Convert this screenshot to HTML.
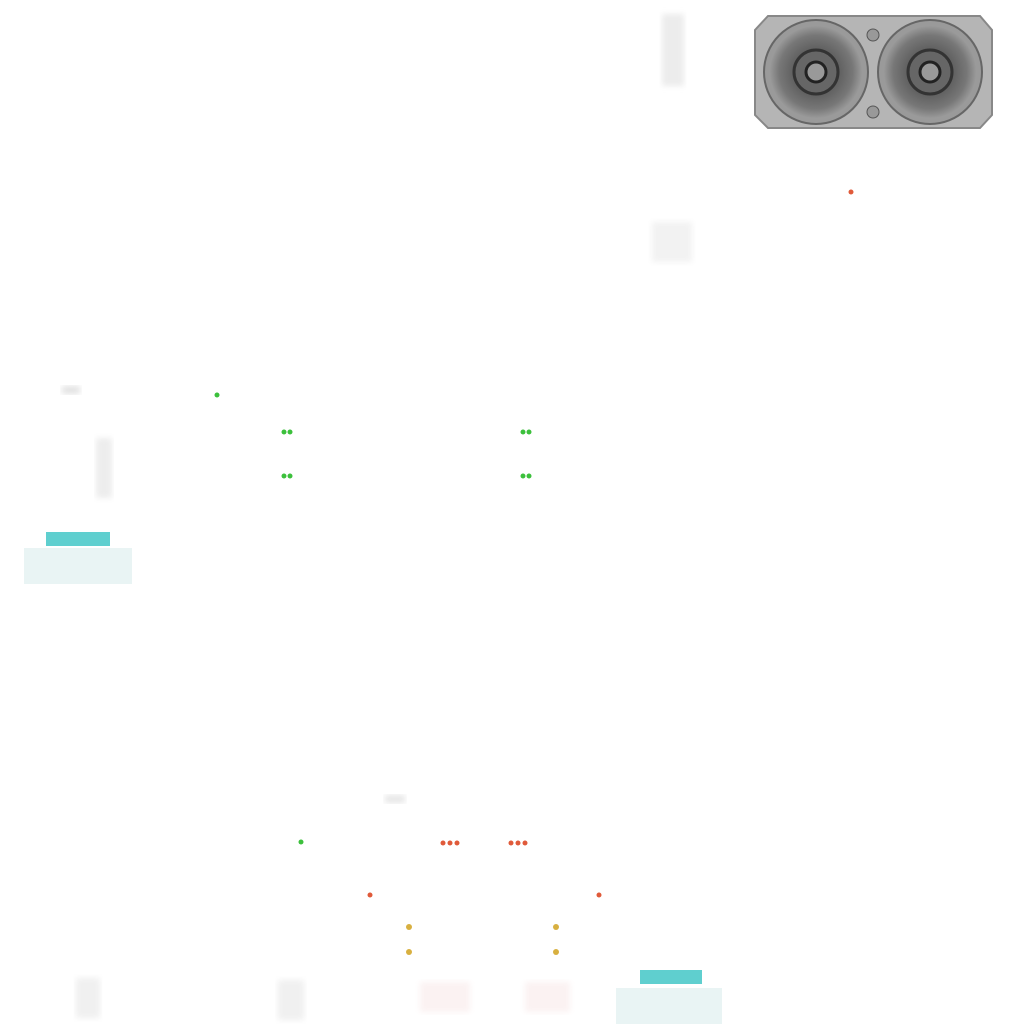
<!DOCTYPE html><html><head><style>body{margin:0;background:#fff}</style></head><body>
<svg width="1024" height="1024" xmlns="http://www.w3.org/2000/svg">
<defs>
<radialGradient id="f" cx="50%" cy="50%" r="50%"><stop offset="0" stop-color="#333"/><stop offset="0.35" stop-color="#555"/><stop offset="0.8" stop-color="#777"/><stop offset="1" stop-color="#999"/></radialGradient>
<filter id="b"><feGaussianBlur stdDeviation="3"/></filter>
</defs>
<rect width="1024" height="1024" fill="#fff"/>
<!-- faint blocks -->
<rect x="662" y="14" width="22" height="72" fill="#ececec" filter="url(#b)"/>
<rect x="652" y="222" width="40" height="40" fill="#f2f2f2" filter="url(#b)"/>
<rect x="96" y="438" width="16" height="60" fill="#ededed" filter="url(#b)"/>
<rect x="62" y="386" width="18" height="8" fill="#e2e2e2" filter="url(#b)"/>
<rect x="76" y="978" width="24" height="40" fill="#f0f0f0" filter="url(#b)"/>
<rect x="278" y="980" width="26" height="40" fill="#f0f0f0" filter="url(#b)"/>
<rect x="420" y="982" width="50" height="30" fill="#fbf2f2" filter="url(#b)"/>
<rect x="525" y="982" width="45" height="30" fill="#fbf2f2" filter="url(#b)"/>
<rect x="385" y="795" width="20" height="8" fill="#e6e6e6" filter="url(#b)"/>
<!-- teal units -->
<rect x="24" y="548" width="108" height="36" fill="#e9f4f4"/>
<rect x="46" y="532" width="64" height="14" fill="#5fcfcf"/>
<rect x="616" y="988" width="106" height="36" fill="#e9f4f4"/>
<rect x="640" y="970" width="62" height="14" fill="#5fcfcf"/>
<!-- fan panel -->
<polygon points="768,16 980,16 992,30 992,115 980,128 768,128 755,115 755,30" fill="#b5b5b5" stroke="#888" stroke-width="2"/>
<g>
<circle cx="816" cy="72" r="52" fill="#9a9a9a" stroke="#666" stroke-width="2"/>
<circle cx="816" cy="72" r="46" fill="url(#f)"/>
<circle cx="816" cy="72" r="22" fill="#666" stroke="#333" stroke-width="3"/>
<circle cx="816" cy="72" r="10" fill="#999" stroke="#222" stroke-width="3"/>
<circle cx="930" cy="72" r="52" fill="#9a9a9a" stroke="#666" stroke-width="2"/>
<circle cx="930" cy="72" r="46" fill="url(#f)"/>
<circle cx="930" cy="72" r="22" fill="#666" stroke="#333" stroke-width="3"/>
<circle cx="930" cy="72" r="10" fill="#999" stroke="#222" stroke-width="3"/>
<circle cx="873" cy="35" r="6" fill="#999" stroke="#555"/>
<circle cx="873" cy="112" r="6" fill="#999" stroke="#555"/>
</g>
<!-- dots -->
<g fill="#e05a3a">
<circle cx="851" cy="192" r="2.5"/>
<circle cx="443" cy="843" r="2.5"/><circle cx="450" cy="843" r="2.5"/><circle cx="457" cy="843" r="2.5"/>
<circle cx="511" cy="843" r="2.5"/><circle cx="518" cy="843" r="2.5"/><circle cx="525" cy="843" r="2.5"/>
<circle cx="370" cy="895" r="2.5"/><circle cx="599" cy="895" r="2.5"/>
</g>
<g fill="#3cc03c">
<circle cx="217" cy="395" r="2.5"/>
<circle cx="284" cy="432" r="2.5"/><circle cx="290" cy="432" r="2.5"/>
<circle cx="523" cy="432" r="2.5"/><circle cx="529" cy="432" r="2.5"/>
<circle cx="284" cy="476" r="2.5"/><circle cx="290" cy="476" r="2.5"/>
<circle cx="523" cy="476" r="2.5"/><circle cx="529" cy="476" r="2.5"/>
<circle cx="301" cy="842" r="2.5"/>
</g>
<g fill="#d8b040">
<circle cx="409" cy="927" r="3"/><circle cx="556" cy="927" r="3"/>
<circle cx="409" cy="952" r="3"/><circle cx="556" cy="952" r="3"/>
</g>
</svg>
</body></html>
